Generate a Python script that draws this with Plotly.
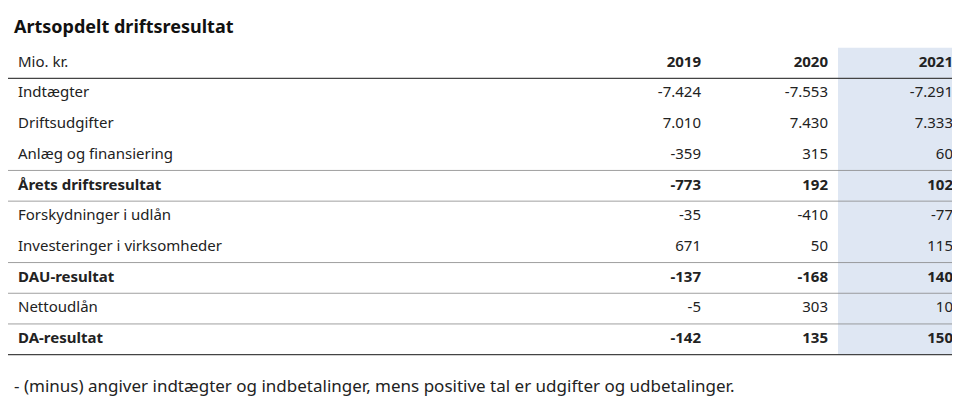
import plotly.graph_objects as go

years = ["2019", "2020", "2021"]
labels = ["Indtægter", "Driftsudgifter", "Anlæg og finansiering", "Årets driftsresultat",
          "Forskydninger i udlån", "Investeringer i virksomheder", "DAU-resultat",
          "Nettoudlån", "DA-resultat"]
v2019 = ["-7.424", "7.010", "-359", "-773", "-35", "671", "-137", "-5", "-142"]
v2020 = ["-7.553", "7.430", "315", "192", "-410", "50", "-168", "303", "135"]
v2021 = ["-7.291", "7.333", "60", "102", "-77", "115", "140", "10", "150"]
bold_rows = ["Årets driftsresultat", "DAU-resultat", "DA-resultat"]

W, H = 960, 408
shade = "#dfe7f3"
FONT = "Noto Sans"
col_right = [693, 820, 945]   # right edges of the value columns (px)
label_x = 10
rows = list(range(1, len(labels) + 1))


def fmt(col):
    return ["<b>%s</b>" % v if labels[i] in bold_rows else v for i, v in enumerate(col)]


fig = go.Figure()

# shaded 2021 column
fig.add_shape(type="rect", x0=830, x1=955, y0=-0.5, y1=len(labels) + 0.5,
              fillcolor=shade, line_width=0, layer="below")

# header
fig.add_trace(go.Scatter(x=[label_x], y=[0], text=["Mio. kr."], mode="text",
                         textposition="middle right",
                         textfont=dict(family=FONT, size=15, color="#222")))
fig.add_trace(go.Scatter(x=col_right, y=[0] * 3, text=["<b>%s</b>" % y for y in years],
                         mode="text", textposition="middle left",
                         textfont=dict(family=FONT, size=15, color="#222")))

# body
fig.add_trace(go.Scatter(x=[label_x] * len(labels), y=rows, text=fmt(labels), mode="text",
                         textposition="middle right",
                         textfont=dict(family=FONT, size=15, color="#222")))
for xr, col in zip(col_right, [v2019, v2020, v2021]):
    fig.add_trace(go.Scatter(x=[xr] * len(col), y=rows, text=fmt(col), mode="text",
                             textposition="middle left",
                             textfont=dict(family=FONT, size=15, color="#222")))

# horizontal rules: below header, and below selected rows
rule_after = [0, 3, 4, 6, 7, 8, 9]
for r in rule_after:
    dark = r in (0, 9)
    fig.add_shape(type="line", x0=0, x1=955, y0=r + 0.5, y1=r + 0.5,
                  line=dict(color="#444" if dark else "#888", width=1.1 if dark else 0.8))

fig.add_annotation(text="<b>Artsopdelt driftsresultat</b>", x=4, y=-1.2,
                   xanchor="left", yanchor="middle", showarrow=False,
                   font=dict(family=FONT, size=18, color="#111"))
fig.add_annotation(text="- (minus) angiver indtægter og indbetalinger, mens positive tal er udgifter og udbetalinger.",
                   x=4, y=10.52, xanchor="left", yanchor="middle", showarrow=False,
                   font=dict(family=FONT, size=17, color="#222"))

pitch = 30.7
fig.update_layout(
    width=W, height=H, margin=dict(l=0, r=0, t=0, b=0),
    paper_bgcolor="white", plot_bgcolor="white", showlegend=False,
    xaxis=dict(range=[0, W], visible=False, fixedrange=True),
    yaxis=dict(range=[(H - 55) / pitch, -55 / pitch], visible=False, fixedrange=True),
)
fig.write_html("out.html")
